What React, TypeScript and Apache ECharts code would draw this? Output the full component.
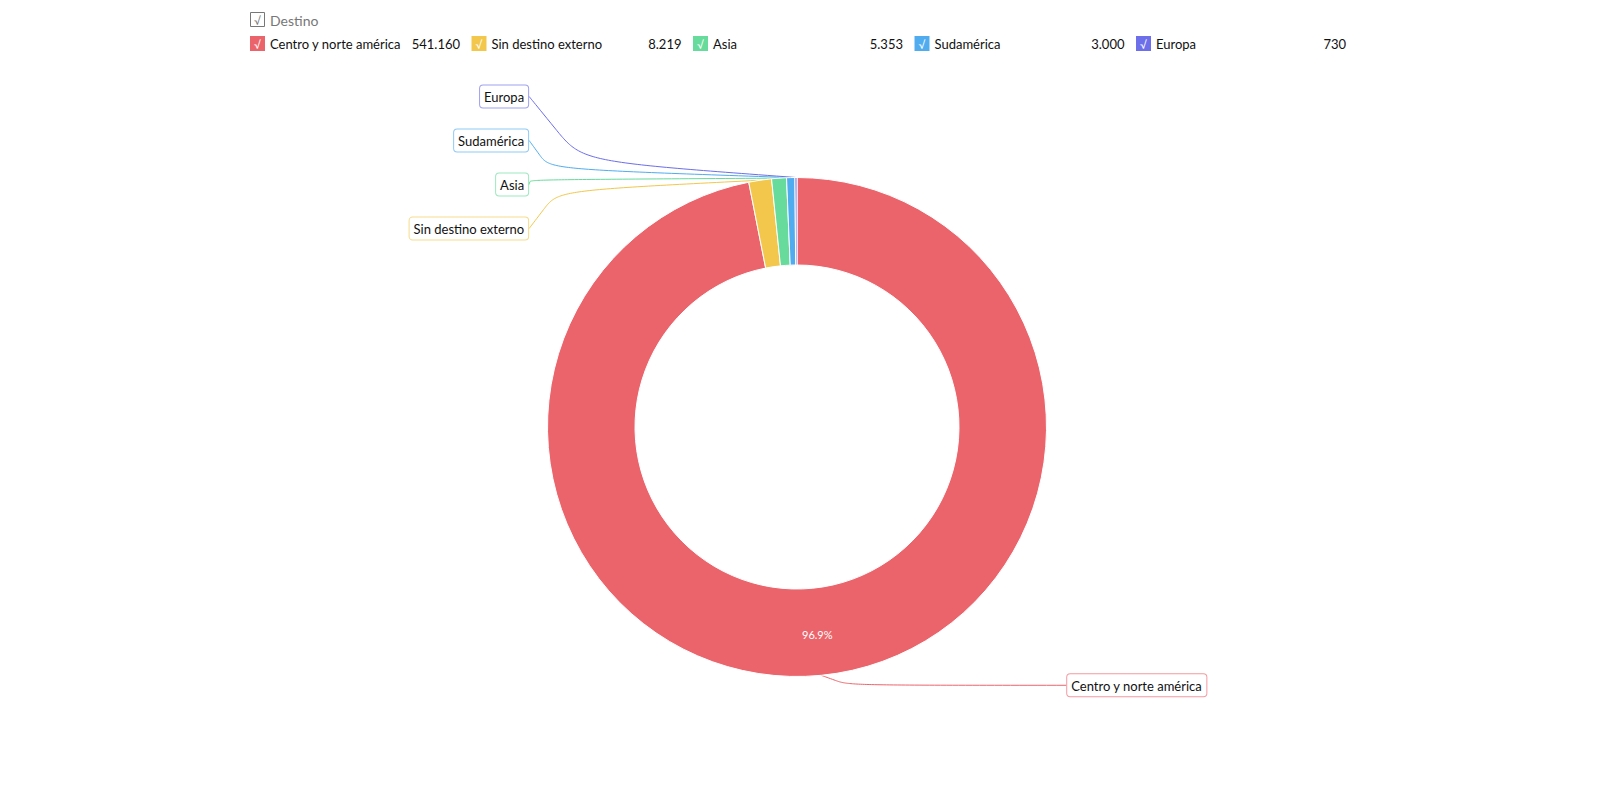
import React, { useEffect, useRef } from "react";
import * as echarts from "echarts";

const categories = ["Centro y norte américa", "Sin destino externo", "Asia", "Sudamérica", "Europa"];
const values = [541160, 8219, 5353, 3000, 730];
const valueLabels = ["541.160", "8.219", "5.353", "3.000", "730"];
const colors = ["#EC646B", "#F2C74B", "#67DB9B", "#50ACEF", "#6C6EEA"];
const legendTitle = "Destino";

const FONT = "Lato, 'Noto Sans', sans-serif";

function rgba(hex: string, a: number) {
  const n = parseInt(hex.slice(1), 16);
  return `rgba(${(n >> 16) & 255},${(n >> 8) & 255},${n & 255},${a})`;
}

function boxRich(color: string) {
  return {
    b: {
      color: "#111",
      fontFamily: FONT,
      fontSize: 13,
      backgroundColor: "#fff",
      borderColor: rgba(color, 0.65),
      borderWidth: 1,
      borderRadius: 3,
      padding: [5, 4, 4, 4],
    },
  };
}

export default function App() {
  const ref = useRef<HTMLDivElement>(null);
  useEffect(() => {
    document.body.style.margin = "0";
    const chart = echarts.init(ref.current!, null, { renderer: "svg" });
    const total = values.reduce((a, b) => a + b, 0);

    const legendGraphics: any[] = [
      {
        type: "group",
        left: 250,
        top: 12,
        children: [
          { type: "rect", shape: { x: 0.5, y: 0.5, width: 14, height: 14 }, style: { fill: "#fff", stroke: "#777", lineWidth: 1 } },
          { type: "text", x: 7.5, y: 8, style: { text: "√", fill: "#777", font: `11px ${FONT}`, align: "center", verticalAlign: "middle" } },
          { type: "text", x: 20, y: 8, style: { text: legendTitle, fill: "#777", font: `14px ${FONT}`, verticalAlign: "middle" } },
        ],
      },
    ];
    categories.forEach((name, i) => {
      legendGraphics.push({
        type: "group",
        left: 250 + i * 221.5,
        top: 36,
        children: [
          { type: "rect", shape: { x: 0, y: 0, width: 15, height: 15 }, style: { fill: colors[i] } },
          { type: "text", x: 7.5, y: 8.5, style: { text: "√", fill: "#fff", font: `11px ${FONT}`, align: "center", verticalAlign: "middle" } },
          { type: "text", x: 20, y: 8, style: { text: name, fill: "#111", font: `13px ${FONT}`, verticalAlign: "middle" } },
          { type: "text", x: 210, y: 8, style: { text: valueLabels[i], fill: "#111", font: `13px ${FONT}`, align: "right", verticalAlign: "middle" } },
        ],
      });
    });

    const outerData = categories.map((name, i) => ({
      name,
      value: values[i],
      itemStyle: { color: colors[i] },
      label: { rich: boxRich(colors[i]) },
      labelLine:
        i === 0
          ? { length: 10, length2: 245, lineStyle: { color: colors[i] } }
          : { lineStyle: { color: colors[i] } },
    }));
    const innerData = categories.map((name, i) => ({ name, value: values[i] }));

    chart.setOption({
      animation: false,
      graphic: legendGraphics,
      series: [
        {
          type: "pie",
          center: [797, 427],
          radius: [162, 249.5],
          startAngle: 90,
          clockwise: true,
          avoidLabelOverlap: true,
          itemStyle: { borderColor: "#fff", borderWidth: 1 },
          label: {
            show: true,
            formatter: "{b|{b}}",
            lineHeight: 42,
            fontSize: 13,
            fontFamily: FONT,
            alignTo: "labelLine",
            distanceToLabelLine: 0,
          },
          labelLine: { show: true, length: 81, length2: 220, smooth: 1, lineStyle: { width: 1 } },
          labelLayout: (p: any) => {
            const pts = p.labelLinePoints;
            if (!pts || !p.labelRect) return {};
            const r = p.labelRect;
            const p0 = pts[0];
            const isLeft = r.x + r.width / 2 < p0[0];
            const endX = isLeft ? r.x + r.width : r.x;
            const endY = r.y + r.height / 2;
            return {
              labelLinePoints: isLeft
                ? [p0, [endX - 8, p0[1] + (endY - p0[1]) * 0.25], [endX, endY]]
                : [p0, [p0[0] + 12, endY], [endX, endY]],
            };
          },
          emphasis: { disabled: true },
          data: outerData,
        },
        {
          type: "pie",
          center: [797, 427],
          radius: [162, 249.5],
          startAngle: 90,
          clockwise: true,
          silent: true,
          itemStyle: { color: "rgba(0,0,0,0)" },
          label: {
            show: true,
            position: "inside",
            color: "#fff",
            fontFamily: FONT,
            fontSize: 11,
            formatter: (p: any) => (p.value / total > 0.05 ? p.percent.toFixed(1) + "%" : ""),
          },
          labelLine: { show: false },
          emphasis: { disabled: true },
          data: innerData,
        },
      ],
    });
    return () => chart.dispose();
  }, []);
  return <div ref={ref} style={{ width: 1600, height: 785 }} />;
}
